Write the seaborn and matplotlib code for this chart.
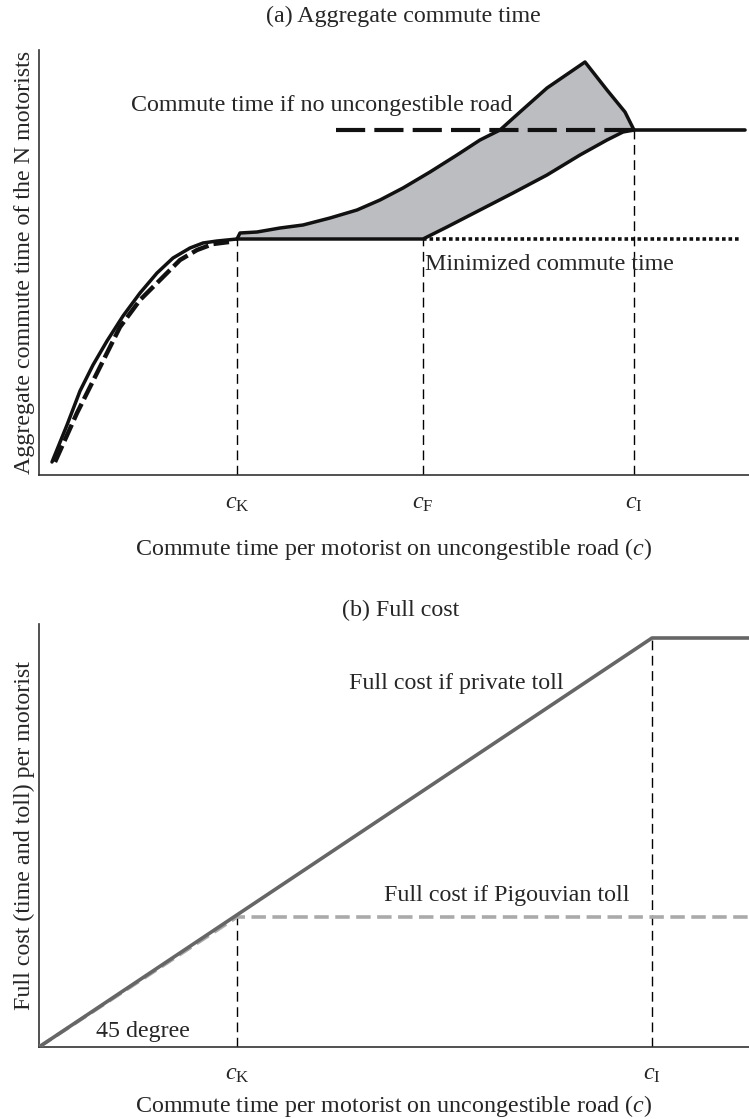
import matplotlib
matplotlib.use('Agg')
import matplotlib.pyplot as plt
import seaborn as sns

# ---- panel (a): aggregate commute time (axis units ~ arbitrary) ----
c_K, c_F, c_I = 198, 384, 595
x_end_a = 706
plateau = 236
no_road = 345

left_solid_x = [13, 28, 41, 54, 68, 84, 101, 118, 134, 151, 164, 178, 198]
left_solid_y = [13, 50, 84, 110, 134, 159, 182, 202, 217, 227, 232, 234, 236]
left_dash_x = [16, 38, 58, 81, 101, 121, 141, 158, 174, 190]
left_dash_y = [13, 62, 102, 148, 175, 195, 215, 225, 231, 233]

upper_x = [198, 201, 218, 241, 264, 291, 318, 341, 364, 391, 418, 441, 461,
           481, 508, 546, 568, 586, 594, 595]
upper_y = [236, 242, 243, 247, 250, 257, 265, 275, 287, 303, 320, 335, 345,
           363, 387, 413, 385, 363, 347, 345]
lower_x = [198, 384, 408, 441, 474, 508, 541, 568, 584, 595]
lower_y = [236, 236, 248, 265, 282, 300, 320, 335, 343, 345]

no_road_x = [297, 595]
flat_x = [595, x_end_a]
dotted_x = [384, 701]

# ---- panel (b): full cost ----
b_K, b_I = 198, 613
private_x = [0, 613, 710]
private_y = [0, 409, 409]
pigou_x = [0, 198, 710]
pigou_y = [0, 130, 130]

sns.set_theme(style='white')
plt.rcParams['font.family'] = ['Liberation Serif', 'DejaVu Serif']
plt.rcParams['mathtext.fontset'] = 'custom'
plt.rcParams['mathtext.rm'] = 'Liberation Serif'
plt.rcParams['mathtext.it'] = 'Liberation Serif:italic'
plt.rcParams['lines.solid_joinstyle'] = 'round'

FS = 17.3
fig = plt.figure(figsize=(7.49, 11.19), dpi=100)
ax1 = fig.add_axes([39 / 749, 1 - 475 / 1119, 710 / 749, 425 / 1119])
ax2 = fig.add_axes([39 / 749, 1 - 1047 / 1119, 710 / 749, 423 / 1119])

# panel a
ax1.fill(upper_x + lower_x[::-1], upper_y + lower_y[::-1], color='#bcbdc0', lw=0, zorder=1)
for xv, top in [(c_K, plateau), (c_F, plateau), (c_I, no_road)]:
    ax1.plot([xv, xv], [0, top], color='black', lw=1, ls=(0, (7, 4)), zorder=2)
sns.lineplot(x=left_dash_x, y=left_dash_y, ax=ax1, color='#111111', lw=3.2,
             linestyle=(0, (4, 1.2)), sort=False, estimator=None, zorder=3)
sns.lineplot(x=left_solid_x, y=left_solid_y, ax=ax1, color='#111111', lw=2.5,
             sort=False, estimator=None, zorder=4)
sns.lineplot(x=upper_x, y=upper_y, ax=ax1, color='#111111', lw=2.5,
             sort=False, estimator=None, zorder=4)
sns.lineplot(x=lower_x, y=lower_y, ax=ax1, color='#111111', lw=2.5,
             sort=False, estimator=None, zorder=4)
sns.lineplot(x=flat_x, y=[no_road, no_road], ax=ax1, color='#111111', lw=2.6,
             sort=False, estimator=None, zorder=4)
sns.lineplot(x=no_road_x, y=[no_road, no_road], ax=ax1, color='#111111', lw=3,
             linestyle=(0, (7, 2.2)), sort=False, estimator=None, zorder=4)
sns.lineplot(x=dotted_x, y=[plateau, plateau], ax=ax1, color='#111111', lw=2.6,
             linestyle=(0, (1, 0.8)), sort=False, estimator=None, zorder=4)

ax1.text(92, 370, 'Commute time if no uncongestible road', fontsize=FS, va='center')
ax1.text(386, 211, 'Minimized commute time', fontsize=FS, va='center')
ax1.set_xlim(0, 710)
ax1.set_ylim(0, 425)
ax1.set_xticks([c_K, c_F, c_I])
ax1.set_xticklabels([r'$c_{\mathrm{K}}$', r'$c_{\mathrm{F}}$', r'$c_{\mathrm{I}}$'], fontsize=FS)
ax1.set_yticks([])
ax1.tick_params(axis='x', length=0, pad=13)
ax1.set_ylabel('Aggregate commute time of the N motorists', fontsize=FS, labelpad=3)
ax1.set_xlabel('Commute time per motorist on uncongestible road ($c$)', fontsize=FS, labelpad=16)

# panel b
for xv, top in [(b_K, 130), (b_I, 409)]:
    ax2.plot([xv, xv], [0, top], color='black', lw=1, ls=(0, (7, 4)), zorder=2)
sns.lineplot(x=pigou_x, y=pigou_y, ax=ax2, color='#aaaaaa', lw=2.6,
             linestyle=(0, (4, 1.8)), sort=False, estimator=None, zorder=3)
sns.lineplot(x=private_x, y=private_y, ax=ax2, color='#666666', lw=2.6,
             sort=False, estimator=None, zorder=4)
ax2.text(310, 364, 'Full cost if private toll', fontsize=FS, va='center')
ax2.text(345, 152, 'Full cost if Pigouvian toll', fontsize=FS, va='center')
ax2.text(57, 16, '45 degree', fontsize=FS, va='center')
ax2.set_xlim(0, 710)
ax2.set_ylim(0, 423)
ax2.set_xticks([b_K, b_I])
ax2.set_xticklabels([r'$c_{\mathrm{K}}$', r'$c_{\mathrm{I}}$'], fontsize=FS)
ax2.set_yticks([])
ax2.tick_params(axis='x', length=0, pad=12)
ax2.set_ylabel('Full cost (time and toll) per motorist', fontsize=FS, labelpad=3)
ax2.set_xlabel('Commute time per motorist on uncongestible road ($c$)', fontsize=FS, labelpad=6)

for ax in (ax1, ax2):
    sns.despine(ax=ax)
    for s in ('left', 'bottom'):
        ax.spines[s].set_color('#333333')
        ax.spines[s].set_linewidth(1.2)
    ax.set_facecolor('white')

fig.text(403 / 749, 1 - 16 / 1119, '(a) Aggregate commute time', fontsize=FS,
         ha='center', va='center')
fig.text(401 / 749, 1 - 610 / 1119, '(b) Full cost', fontsize=FS,
         ha='center', va='center')

fig.savefig('out.png', dpi=100, facecolor='white')
